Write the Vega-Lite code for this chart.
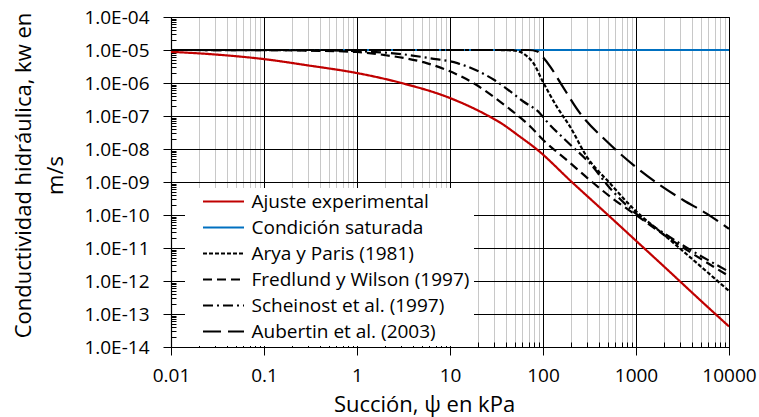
{
  "$schema": "https://vega.github.io/schema/vega-lite/v6.json",
  "width": 558,
  "height": 330,
  "autosize": {"type": "none"},
  "padding": {"left": 171, "top": 17, "right": 30, "bottom": 70},
  "background": "white",
  "config": {
    "font": "Open Sans",
    "view": {"stroke": "black", "strokeWidth": 1},
    "axis": {
      "labelFont": "Open Sans",
      "labelFontSize": 19,
      "labelColor": "black",
      "titleFont": "Open Sans",
      "titleFontSize": 22,
      "titleFontWeight": "normal",
      "titleColor": "black",
      "domainColor": "black",
      "domainWidth": 1.2,
      "tickColor": "black",
      "tickWidth": 1,
      "labelFlush": false,
      "labelOverlap": false,
      "labelBound": false,
      "gridWidth": 1
    },
    "legend": {
      "title": null,
      "fillColor": "white",
      "padding": 4,
      "symbolType": "M-2.5,0H2.5",
      "symbolSize": 269,
      "symbolStrokeWidth": 2,
      "symbolOffset": 25,
      "labelOffset": 18.5,
      "labelFont": "Open Sans",
      "labelFontSize": 19,
      "labelColor": "black",
      "labelLimit": 400,
      "rowPadding": 6
    }
  },
  "data": {
    "values": [
      {"serie": "Condición saturada", "psi": 0.01, "k": 1e-5},
      {"serie": "Condición saturada", "psi": 10000, "k": 1e-5},

      {"serie": "Ajuste experimental", "psi": 0.01, "k": 8.8e-6},
      {"serie": "Ajuste experimental", "psi": 0.03, "k": 7.3e-6},
      {"serie": "Ajuste experimental", "psi": 0.1, "k": 5.3e-6},
      {"serie": "Ajuste experimental", "psi": 0.3, "k": 3.4e-6},
      {"serie": "Ajuste experimental", "psi": 1, "k": 2.0e-6},
      {"serie": "Ajuste experimental", "psi": 3, "k": 1.0e-6},
      {"serie": "Ajuste experimental", "psi": 10, "k": 3.5e-7},
      {"serie": "Ajuste experimental", "psi": 26, "k": 1.0e-7},
      {"serie": "Ajuste experimental", "psi": 35, "k": 6.2e-8},
      {"serie": "Ajuste experimental", "psi": 55, "k": 2.5e-8},
      {"serie": "Ajuste experimental", "psi": 85, "k": 1.0e-8},
      {"serie": "Ajuste experimental", "psi": 204, "k": 1.0e-9},
      {"serie": "Ajuste experimental", "psi": 500, "k": 1.0e-10},
      {"serie": "Ajuste experimental", "psi": 1000, "k": 1.66e-11},
      {"serie": "Ajuste experimental", "psi": 2000, "k": 2.75e-12},
      {"serie": "Ajuste experimental", "psi": 5000, "k": 2.5e-13},
      {"serie": "Ajuste experimental", "psi": 10000, "k": 4.2e-14},

      {"serie": "Arya y Paris (1981)", "psi": 0.01, "k": 1e-5},
      {"serie": "Arya y Paris (1981)", "psi": 30, "k": 1e-5},
      {"serie": "Arya y Paris (1981)", "psi": 45, "k": 9.8e-6},
      {"serie": "Arya y Paris (1981)", "psi": 56, "k": 8.9e-6},
      {"serie": "Arya y Paris (1981)", "psi": 68, "k": 6.3e-6},
      {"serie": "Arya y Paris (1981)", "psi": 79, "k": 4.0e-6},
      {"serie": "Arya y Paris (1981)", "psi": 98, "k": 1.2e-6},
      {"serie": "Arya y Paris (1981)", "psi": 141, "k": 1.9e-7},
      {"serie": "Arya y Paris (1981)", "psi": 195, "k": 4.8e-8},
      {"serie": "Arya y Paris (1981)", "psi": 295, "k": 5.9e-9},
      {"serie": "Arya y Paris (1981)", "psi": 525, "k": 9.1e-10},
      {"serie": "Arya y Paris (1981)", "psi": 1000, "k": 1.3e-10},
      {"serie": "Arya y Paris (1981)", "psi": 2000, "k": 2.5e-11},
      {"serie": "Arya y Paris (1981)", "psi": 10000, "k": 5.0e-13},

      {"serie": "Fredlund y Wilson (1997)", "psi": 0.01, "k": 1e-5},
      {"serie": "Fredlund y Wilson (1997)", "psi": 0.1, "k": 9.9e-6},
      {"serie": "Fredlund y Wilson (1997)", "psi": 0.3, "k": 9.6e-6},
      {"serie": "Fredlund y Wilson (1997)", "psi": 1, "k": 8.7e-6},
      {"serie": "Fredlund y Wilson (1997)", "psi": 2, "k": 7.0e-6},
      {"serie": "Fredlund y Wilson (1997)", "psi": 5.6, "k": 4.0e-6},
      {"serie": "Fredlund y Wilson (1997)", "psi": 9.3, "k": 2.45e-6},
      {"serie": "Fredlund y Wilson (1997)", "psi": 18, "k": 9.8e-7},
      {"serie": "Fredlund y Wilson (1997)", "psi": 38, "k": 2.2e-7},
      {"serie": "Fredlund y Wilson (1997)", "psi": 73, "k": 4.8e-8},
      {"serie": "Fredlund y Wilson (1997)", "psi": 100, "k": 1.9e-8},
      {"serie": "Fredlund y Wilson (1997)", "psi": 182, "k": 4.5e-9},
      {"serie": "Fredlund y Wilson (1997)", "psi": 324, "k": 1.1e-9},
      {"serie": "Fredlund y Wilson (1997)", "psi": 575, "k": 3.0e-10},
      {"serie": "Fredlund y Wilson (1997)", "psi": 1000, "k": 1.0e-10},
      {"serie": "Fredlund y Wilson (1997)", "psi": 2000, "k": 2.5e-11},
      {"serie": "Fredlund y Wilson (1997)", "psi": 10000, "k": 1.4e-12},

      {"serie": "Scheinost et al. (1997)", "psi": 0.01, "k": 1e-5},
      {"serie": "Scheinost et al. (1997)", "psi": 0.3, "k": 9.8e-6},
      {"serie": "Scheinost et al. (1997)", "psi": 1, "k": 9.2e-6},
      {"serie": "Scheinost et al. (1997)", "psi": 3, "k": 7.5e-6},
      {"serie": "Scheinost et al. (1997)", "psi": 6.2, "k": 5.6e-6},
      {"serie": "Scheinost et al. (1997)", "psi": 12, "k": 4.0e-6},
      {"serie": "Scheinost et al. (1997)", "psi": 30, "k": 1.23e-6},
      {"serie": "Scheinost et al. (1997)", "psi": 62, "k": 2.7e-7},
      {"serie": "Scheinost et al. (1997)", "psi": 93, "k": 1.2e-7},
      {"serie": "Scheinost et al. (1997)", "psi": 110, "k": 6.8e-8},
      {"serie": "Scheinost et al. (1997)", "psi": 182, "k": 1.66e-8},
      {"serie": "Scheinost et al. (1997)", "psi": 324, "k": 3.5e-9},
      {"serie": "Scheinost et al. (1997)", "psi": 525, "k": 6.5e-10},
      {"serie": "Scheinost et al. (1997)", "psi": 1000, "k": 1.1e-10},
      {"serie": "Scheinost et al. (1997)", "psi": 2000, "k": 2.8e-11},
      {"serie": "Scheinost et al. (1997)", "psi": 10000, "k": 1.9e-12},

      {"serie": "Aubertin et al. (2003)", "psi": 0.01, "k": 1e-5},
      {"serie": "Aubertin et al. (2003)", "psi": 70, "k": 1e-5},
      {"serie": "Aubertin et al. (2003)", "psi": 87, "k": 9.0e-6},
      {"serie": "Aubertin et al. (2003)", "psi": 100, "k": 6.0e-6},
      {"serie": "Aubertin et al. (2003)", "psi": 120, "k": 3.1e-6},
      {"serie": "Aubertin et al. (2003)", "psi": 155, "k": 9.8e-7},
      {"serie": "Aubertin et al. (2003)", "psi": 251, "k": 1.2e-7},
      {"serie": "Aubertin et al. (2003)", "psi": 490, "k": 1.66e-8},
      {"serie": "Aubertin et al. (2003)", "psi": 933, "k": 3.3e-9},
      {"serie": "Aubertin et al. (2003)", "psi": 1700, "k": 9.1e-10},
      {"serie": "Aubertin et al. (2003)", "psi": 3240, "k": 2.8e-10},
      {"serie": "Aubertin et al. (2003)", "psi": 5750, "k": 1.1e-10},
      {"serie": "Aubertin et al. (2003)", "psi": 10000, "k": 3.8e-11}
    ]
  },
  "encoding": {
    "x": {
      "field": "psi",
      "type": "quantitative",
      "scale": {"type": "log", "domain": [0.01, 10000], "nice": false},
      "axis": {
        "title": "Succión, ψ en kPa",
        "titleX": 253,
        "titleY": 64,
        "titleAnchor": null,
        "titleAlign": "center",
        "titleBaseline": "alphabetic",
        "values": [0.01, 0.02, 0.03, 0.04, 0.05, 0.06, 0.07, 0.08, 0.09,
                   0.1, 0.2, 0.3, 0.4, 0.5, 0.6, 0.7, 0.8, 0.9,
                   1, 2, 3, 4, 5, 6, 7, 8, 9,
                   10, 20, 30, 40, 50, 60, 70, 80, 90,
                   100, 200, 300, 400, 500, 600, 700, 800, 900,
                   1000, 2000, 3000, 4000, 5000, 6000, 7000, 8000, 9000, 10000],
        "labelExpr": "abs(log(datum.value)/LN10 - round(log(datum.value)/LN10)) < 0.001 ? format(datum.value, '~g') : ''",
        "labelPadding": 11,
        "grid": true,
        "gridColor": {"condition": {"test": "abs(log(datum.value)/LN10 - round(log(datum.value)/LN10)) < 0.001", "value": "black"}, "value": "#c8c8c8"},
        "tickSize": {"condition": {"test": "abs(log(datum.value)/LN10 - round(log(datum.value)/LN10)) < 0.001", "value": 8}, "value": -5}
      }
    },
    "y": {
      "field": "k",
      "type": "quantitative",
      "scale": {"type": "log", "domain": [1e-14, 1e-4], "nice": false},
      "axis": {
        "title": ["Conductividad hidráulica, kw en", "m/s"],
        "titleAngle": -90,
        "titleX": -141,
        "titleY": 158,
        "titleAnchor": null,
        "titleAlign": "center",
        "titleBaseline": "alphabetic",
        "titleLineHeight": 32,
        "values": [1e-14, 2e-14, 3e-14, 4e-14, 5e-14, 6e-14, 7e-14, 8e-14, 9e-14,
                   1e-13, 2e-13, 3e-13, 4e-13, 5e-13, 6e-13, 7e-13, 8e-13, 9e-13,
                   1e-12, 2e-12, 3e-12, 4e-12, 5e-12, 6e-12, 7e-12, 8e-12, 9e-12,
                   1e-11, 2e-11, 3e-11, 4e-11, 5e-11, 6e-11, 7e-11, 8e-11, 9e-11,
                   1e-10, 2e-10, 3e-10, 4e-10, 5e-10, 6e-10, 7e-10, 8e-10, 9e-10,
                   1e-9, 2e-9, 3e-9, 4e-9, 5e-9, 6e-9, 7e-9, 8e-9, 9e-9,
                   1e-8, 2e-8, 3e-8, 4e-8, 5e-8, 6e-8, 7e-8, 8e-8, 9e-8,
                   1e-7, 2e-7, 3e-7, 4e-7, 5e-7, 6e-7, 7e-7, 8e-7, 9e-7,
                   1e-6, 2e-6, 3e-6, 4e-6, 5e-6, 6e-6, 7e-6, 8e-6, 9e-6,
                   1e-5, 2e-5, 3e-5, 4e-5, 5e-5, 6e-5, 7e-5, 8e-5, 9e-5, 1e-4],
        "labelExpr": "abs(log(datum.value)/LN10 - round(log(datum.value)/LN10)) < 0.001 ? '1.0E-' + (round(-log(datum.value)/LN10) < 10 ? '0' : '') + round(-log(datum.value)/LN10) : ''",
        "labelPadding": 14,
        "grid": true,
        "gridColor": "black",
        "gridOpacity": {"condition": {"test": "abs(log(datum.value)/LN10 - round(log(datum.value)/LN10)) < 0.001", "value": 1}, "value": 0},
        "tickSize": {"condition": {"test": "abs(log(datum.value)/LN10 - round(log(datum.value)/LN10)) < 0.001", "value": 8}, "value": -5}
      }
    },
    "color": {
      "field": "serie",
      "type": "nominal",
      "scale": {
        "domain": ["Ajuste experimental", "Condición saturada", "Arya y Paris (1981)", "Fredlund y Wilson (1997)", "Scheinost et al. (1997)", "Aubertin et al. (2003)"],
        "range": ["#c00000", "#0070c0", "black", "black", "black", "black"]
      },
      "legend": {"orient": "none", "legendX": 14, "legendY": 171}
    },
    "strokeDash": {
      "field": "serie",
      "type": "nominal",
      "scale": {
        "domain": ["Ajuste experimental", "Condición saturada", "Arya y Paris (1981)", "Fredlund y Wilson (1997)", "Scheinost et al. (1997)", "Aubertin et al. (2003)"],
        "range": [[1, 0], [1, 0], [4, 2], [9, 5], [10, 4, 2, 4], [18, 7]]
      },
      "legend": {"orient": "none", "legendX": 14, "legendY": 171}
    }
  },
  "layer": [
    {
      "transform": [{"filter": "datum.serie === 'Condición saturada'"}],
      "mark": {"type": "line", "strokeWidth": 2.2, "interpolate": "monotone", "clip": true}
    },
    {
      "transform": [{"filter": "datum.serie !== 'Condición saturada'"}],
      "mark": {"type": "line", "strokeWidth": 2.2, "interpolate": "monotone", "clip": true}
    }
  ]
}
